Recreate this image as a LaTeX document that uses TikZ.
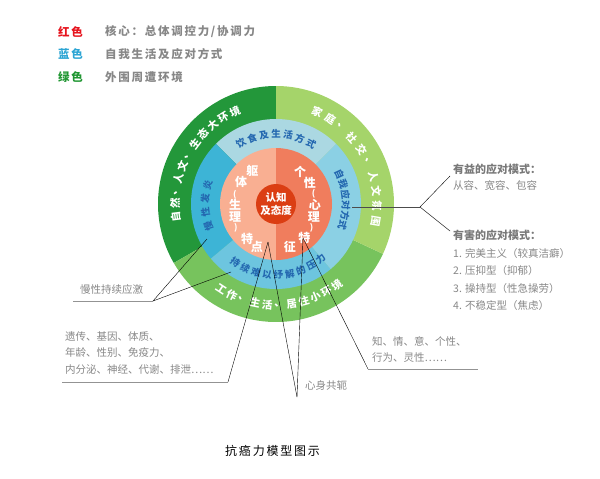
\documentclass[tikz,border=0pt]{standalone}
\usepackage{fontspec}
\setmainfont{Noto Sans CJK SC}
\newfontfamily\lsfont[LetterSpace=15]{Noto Sans CJK SC}
\usetikzlibrary{calc,positioning,math}
\definecolor{legred}{RGB}{230,20,30}
\definecolor{legblue}{RGB}{45,165,212}
\definecolor{leggreen}{RGB}{32,150,50}
\definecolor{notegray}{RGB}{135,135,135}
\definecolor{gdark}{RGB}{35,151,58}
\definecolor{gmid}{RGB}{119,195,93}
\definecolor{glight}{RGB}{165,212,106}
\definecolor{btop}{RGB}{171,216,226}
\definecolor{bleft}{RGB}{61,180,214}
\definecolor{bbottom}{RGB}{109,197,223}
\definecolor{bright}{RGB}{139,208,228}
\definecolor{bluetxt}{RGB}{36,104,176}
\definecolor{sleft}{RGB}{249,175,146}
\definecolor{sright}{RGB}{240,125,93}
\definecolor{corered}{RGB}{219,62,19}

\begin{document}
\begin{tikzpicture}[x=1pt,y=1pt,
  gtext/.style={text=white,font=\fontsize{10.5}{11}\selectfont\bfseries,inner sep=0pt},
  btext/.style={text=bluetxt,font=\fontsize{9.5}{10}\selectfont\bfseries,inner sep=0pt},
  stext/.style={text=white,font=\fontsize{12}{13}\selectfont\bfseries,inner sep=0pt},
  paren/.style={text=white,font=\fontsize{8.5}{9}\selectfont\bfseries,inner sep=0pt},
  legkey/.style={anchor=west,inner sep=0pt,font=\lsfont\fontsize{11.5}{12}\selectfont\bfseries},
  legtext/.style={anchor=west,inner sep=0pt,text=notegray,font=\lsfont\fontsize{11.5}{12}\selectfont\bfseries},
  note/.style={text=notegray,font=\fontsize{10.5}{16.5}\selectfont,inner sep=0pt,align=left},
  notebold/.style={text=notegray!90!black,font=\fontsize{11}{12}\selectfont\bfseries,inner sep=0pt,anchor=west},
  lead/.style={black,line width=0.4pt},
  uline/.style={notegray!90,line width=0.6pt}]

\useasboundingbox (0,0) rectangle (600,-479);

% legend
\node[legkey,text=legred] (key-red) at (58,-32) {红色};
\node[legtext] (txt-red) at (105,-32) {核心：总体调控力/协调力};
\node[legkey,text=legblue] (key-blue) at (58,-54) {蓝色};
\node[legtext] (txt-blue) at (105,-54) {自我生活及应对方式};
\node[legkey,text=leggreen] (key-green) at (58,-77) {绿色};
\node[legtext] (txt-green) at (105,-77) {外围周遭环境};

\tikzmath{
\rCore=20;
\rSelf=56;
\rLife=85;
\rEnv=118;
}

\begin{scope}[shift={(276,-204)}]
% rings
\fill[gdark] (0,0) -- (90:\rEnv) arc (90:210:\rEnv pt) -- cycle;
\fill[gmid] (0,0) -- (210:\rEnv) arc (210:335:\rEnv pt) -- cycle;
\fill[glight] (0,0) -- (-25:\rEnv) arc (-25:90:\rEnv pt) -- cycle;
\fill[btop] (0,0) -- (45:\rLife) arc (45:135:\rLife pt) -- cycle;
\fill[bleft] (0,0) -- (135:\rLife) arc (135:220:\rLife pt) -- cycle;
\fill[bbottom] (0,0) -- (220:\rLife) arc (220:310:\rLife pt) -- cycle;
\fill[bright] (0,0) -- (310:\rLife) arc (310:405:\rLife pt) -- cycle;
\fill[sleft] (0,0) -- (90:\rSelf) arc (90:270:\rSelf pt) -- cycle;
\fill[sright] (0,0) -- (-90:\rSelf) arc (-90:90:\rSelf pt) -- cycle;
\fill[corered] (0,0) circle (\rCore pt);
\node[stext,font=\fontsize{10.5}{12.5}\selectfont\bfseries,align=center] (core) at (0,0) {认知\\及态度};

% outer ring
\foreach \ch [count=\i from 0] in {自,然,、,人,文,、,生,态,大,环,境}{
  \pgfmathsetmacro\ang{187-7.3*\i}
  \node[gtext,rotate=\ang-90] (env-a\i) at (\ang:101) {\ch};
}
\foreach \ch [count=\i from 0] in {家,庭,、,社,交,、,人,文,氛,围}{
  \pgfmathsetmacro\ang{66-8.4*\i}
  \node[gtext,rotate=\ang-90] (env-b\i) at (\ang:101) {\ch};
}
\foreach \ch [count=\i from 0] in {工,作,、,生,活,、,居,住,小,环,境}{
  \pgfmathsetmacro\ang{237+7*\i}
  \node[gtext,rotate=\ang+90] (env-c\i) at (\ang:101) {\ch};
}

% middle ring
\foreach \ch [count=\i from 0] in {饮,食,及,生,活,方,式}{
  \pgfmathsetmacro\ang{120-10*\i}
  \node[btext,rotate=\ang-90] (life-a\i) at (\ang:70) {\ch};
}
\foreach \ch [count=\i from 0] in {慢,性,发,炎}{
  \pgfmathsetmacro\ang{198-11.3*\i}
  \node[btext,rotate=\ang-90] (life-b\i) at (\ang:71) {\ch};
}
\foreach \ch [count=\i from 0] in {自,我,应,对,方,式}{
  \pgfmathsetmacro\ang{25-8.6*\i}
  \node[btext,rotate=\ang-90] (life-c\i) at (\ang:70) {\ch};
}
\foreach \ch [count=\i from 0] in {持,续,难,以,纾,解,的,压,力}{
  \pgfmathsetmacro\ang{235+9.25*\i}
  \node[btext,rotate=\ang+90] (life-d\i) at (\ang:71) {\ch};
}

% inner half circles
\foreach \a/\r/\ch [count=\i] in {125/41/躯,148/41/体,181/41/生,198/43/理,230/45/特,246/47/点}{
  \node[stext] (body-\i) at (\a:\r) {\ch};
}
\node[paren] (body-po) at (168:42) {(};
\node[paren] (body-pc) at (211:47) {)};
\foreach \a/\r/\ch [count=\i] in {53/40/个,32/40/性,-1.5/39/心,-19/40/理,-50/44/特,-72/45/征}{
  \node[stext] (mind-\i) at (\a:\r) {\ch};
}
\node[paren] (mind-po) at (15:39) {(};
\node[paren] (mind-pc) at (-34:43) {)};
\end{scope}

% leaders
\coordinate (inflam) at (207,-239);
\coordinate (stress) at (231,-272);
\coordinate (trait-l) at (268,-242);
\coordinate (trait-r) at (303,-238);
\coordinate (cope) at (352,-207);

\node[note,anchor=west] (chronic) at (80,-290) {慢性持续应激};
\coordinate (chronic-l) at (73,-301);
\coordinate (chronic-r) at (153,-301);
\draw[uline] (chronic-l) -- (chronic-r);
\draw[lead] (chronic-r) -- (inflam);
\draw[lead] (chronic-r) -- (stress);

\node[note,anchor=north west] (physio) at (65,-331) {遗传、基因、体质、\\年龄、性别、免疫力、\\内分泌、神经、代谢、排泄……};
\coordinate (physio-l) at (62,-382);
\coordinate (physio-r) at (228,-382);
\draw[uline] (physio-l) -- (physio-r);
\draw[lead] (physio-r) -- (trait-l);

\node[note,anchor=west] (bodymind) at (305,-386) {心身共轭};
\coordinate (bm) at (297,-397);
\draw[lead] (bm) -- (trait-l);
\draw[lead] (bm) -- (trait-r);

\node[note,anchor=north west] (psych) at (372,-336) {知、情、意、个性、\\行为、灵性……};
\coordinate (psych-l) at (368,-369);
\coordinate (psych-r) at (478,-369);
\draw[uline] (psych-l) -- (psych-r);
\draw[lead] (psych-l) -- (trait-r);

\coordinate (fork) at (420,-207);
\coordinate (good-end) at (450,-176);
\coordinate (bad-end) at (450,-231);
\draw[lead,black!70] (cope) -- (fork);
\draw[lead] (fork) -- (good-end);
\draw[lead] (fork) -- (bad-end);

\node[notebold] (good) at (453,-169) {有益的应对模式：};
\node[note,anchor=west] (good-list) at (453,-186) {从容、宽容、包容};
\node[notebold] (bad) at (453,-235) {有害的应对模式：};
\node[note,anchor=north west,font=\fontsize{10.5}{17.5}\selectfont] (bad-list) at (453,-248) {1. 完美主义（较真洁癖）\\2. 压抑型（抑郁）\\3. 操持型（性急操劳）\\4. 不稳定型（焦虑）};

\node[anchor=west,inner sep=0pt,font=\lsfont\fontsize{12}{13}\selectfont] (title) at (225,-451) {抗癌力模型图示};
\end{tikzpicture}
\end{document}
